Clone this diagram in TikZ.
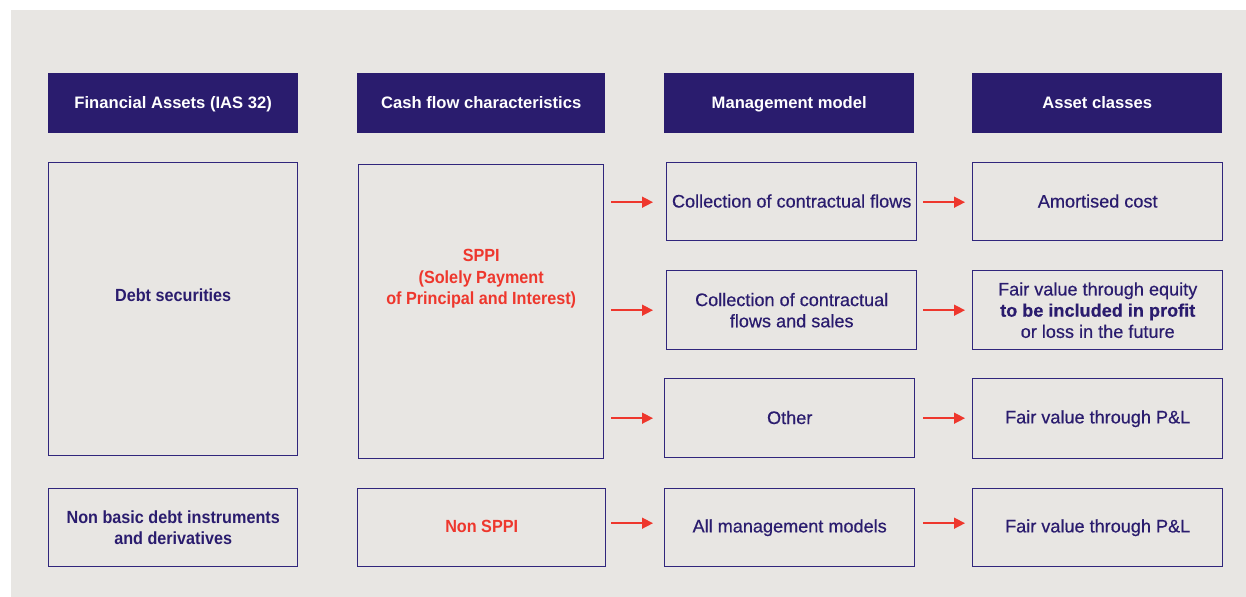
\documentclass[tikz,border=0pt]{standalone}
\usepackage{fontspec}
\setmainfont{Liberation Sans}
\newfontfamily\condfont[FakeStretch=0.92]{Liberation Sans}
\newfontfamily\medfont[FakeBold=0.5]{Liberation Sans}
\usetikzlibrary{arrows.meta}
\definecolor{navy}{RGB}{42,28,110}
\definecolor{edge}{RGB}{48,38,124}
\definecolor{redtxt}{RGB}{238,55,45}
\definecolor{panel}{RGB}{232,230,227}
\tikzset{
  head/.style={fill=navy, draw=none, anchor=north west, inner sep=0pt,
    text=white, text height=13bp, text depth=2bp,
    font=\bfseries\fontsize{16.6bp}{20bp}\selectfont},
  cell/.style={draw=edge, line width=1.4bp, anchor=north west, inner sep=0pt,
    align=center, text=navy, font=\medfont\fontsize{18.1bp}{21.2bp}\selectfont},
  condtext/.style={align=center, inner sep=0pt, text=navy,
    font=\condfont\bfseries\fontsize{17.6bp}{21.4bp}\selectfont},
  sppitext/.style={condtext, text=redtxt},
  flow/.style={draw=redtxt, line width=1.5bp,
    -{Triangle[length=11bp,width=11bp]}},
}
\begin{document}
\begin{tikzpicture}[x=1bp,y=-1bp]
\useasboundingbox (0,0) rectangle (1246,597);
\fill[white] (0,0) rectangle (1246,597);
\fill[panel] (11,10) rectangle (1246,597);

% column headers
\node[head, minimum width=250bp, minimum height=60bp] (h1) at (48,73) {Financial Assets (IAS 32)};
\node[head, minimum width=248bp, minimum height=60bp] (h2) at (357,73) {Cash flow characteristics};
\node[head, minimum width=250bp, minimum height=60bp] (h3) at (664,73) {Management model};
\node[head, minimum width=250bp, minimum height=60bp] (h4) at (972,73) {Asset classes};

% financial assets
\node[cell, minimum width=249bp, minimum height=293bp] (ds) at (48,162) {};
\node[condtext, yshift=13.5bp] (dst) at (ds.center) {Debt securities};
\node[cell, minimum width=249bp, minimum height=78bp] (nb) at (48,488) {};
\node[condtext] (nbt) at (nb.center) {Non basic debt instruments\\and derivatives};

% cash flow characteristics
\node[cell, minimum width=245bp, minimum height=294bp] (sppi) at (358,164) {};
\node[sppitext, yshift=33bp] (sppit) at (sppi.center) {SPPI\\(Solely Payment\\of Principal and Interest)};
\node[cell, minimum width=248bp, minimum height=78bp] (ns) at (357,488) {};
\node[sppitext, yshift=1bp] (nst) at (ns.center) {Non SPPI};

% management models
\node[cell, minimum width=250bp, minimum height=78bp] (m1) at (666,162) {\raisebox{1.5bp}{Collection of contractual flows}};
\node[cell, minimum width=250bp, minimum height=79bp] (m2) at (666,270) {Collection of contractual\\flows and sales};
\node[cell, minimum width=250bp, minimum height=79bp] (m3) at (664,378) {\raisebox{1.5bp}{Other}};
\node[cell, minimum width=250bp, minimum height=78bp] (m4) at (664,488) {\raisebox{3bp}{All management models}};

% asset classes
\node[cell, minimum width=250bp, minimum height=78bp] (a1) at (972,162) {\raisebox{1.5bp}{Amortised cost}};
\node[cell, minimum width=250bp, minimum height=79bp] (a2) at (972,270) {Fair value through equity\\\textbf{to be included in profit}\\or loss in the future};
\node[cell, minimum width=250bp, minimum height=80bp] (a3) at (972,378) {Fair value through P\&L};
\node[cell, minimum width=250bp, minimum height=78bp] (a4) at (972,488) {Fair value through P\&L};

% flows from SPPI to the management models
\draw[flow, shorten <=7bp, shorten >=13bp] ([yshift=-0.5bp]sppi.east |- m1.west) -- ([yshift=-0.5bp]m1.west);
\draw[flow, shorten <=7bp, shorten >=13bp] (sppi.east |- m2.west) -- (m2.west);
\draw[flow, shorten <=7bp, shorten >=11bp] (sppi.east |- m3.west) -- (m3.west);
\draw[flow, shorten <=5bp, shorten >=11bp] ([yshift=4.5bp]ns.east) -- ([yshift=4.5bp]m4.west);

% flows from the management models to the asset classes
\draw[flow, shorten <=6bp, shorten >=7bp] ([yshift=-0.5bp]m1.east) -- ([yshift=-0.5bp]a1.west |- m1.east);
\draw[flow, shorten <=6bp, shorten >=7bp] (m2.east) -- (a2.west |- m2.east);
\draw[flow, shorten <=8bp, shorten >=7bp] (m3.east) -- (a3.west |- m3.east);
\draw[flow, shorten <=8bp, shorten >=7bp] ([yshift=4.5bp]m4.east) -- ([yshift=4.5bp]a4.west);
\end{tikzpicture}
\end{document}
